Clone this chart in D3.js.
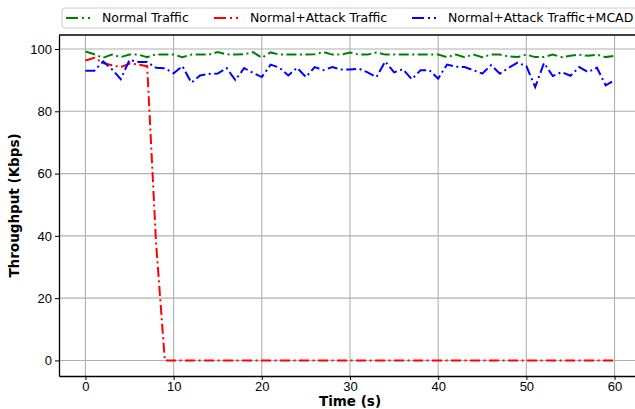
<!DOCTYPE html>
<html>
<head>
<meta charset="utf-8">
<script src="https://cdn.jsdelivr.net/npm/d3@7"></script>
<style>
  body { margin: 0; background: white; }
  svg { display: block; font-family: 'DejaVu Sans', sans-serif; }
</style>
</head>
<body>
<script>
const time = [0,1,2,3,4,5,6,7,8,9,10,11,12,13,14,15,16,17,18,19,20,
  21,22,23,24,25,26,27,28,29,30,31,32,33,34,35,36,37,38,39,40,
  41,42,43,44,45,46,47,48,49,50,51,52,53,54,55,56,57,58,59,60]

const normal = [99.2,98.3,97.2,98.2,97.4,98.2,98.2,97.4,98.3,98.2,98.2,
  97.4,98.2,98.2,98.2,99.0,98.3,98.2,98.3,99.0,97.2,
  98.9,98.2,98.2,98.2,98.2,98.3,99.0,98.2,98.2,98.9,
  98.2,98.2,98.9,98.2,98.2,98.2,98.2,98.2,98.2,98.2,
  97.4,98.2,97.4,98.2,97.4,98.2,98.2,97.6,97.4,98.2,
  97.4,97.4,98.2,97.4,97.8,98.2,97.8,98.2,97.4,97.8]

const attack = [96.3,97.2,95.5,94.8,94.2,95.3,95.0,94.5,38,0,0,
  0,0,0,0,0,0,0,0,0,0, 0,0,0,0,0,0,0,0,0,0,
  0,0,0,0,0,0,0,0,0,0, 0,0,0,0,0,0,0,0,0,0,
  0,0,0,0,0,0,0,0,0,0]

const mcad = [93,93,96,93.5,90.3,96.5,95.8,95.8,94,93.8,92.2,
  94.5,89.2,91.5,92,92.1,93.9,90,93.9,92.3,91,
  95,94,91.5,94,91,94.2,93.2,94.2,93.4,93.4,
  93.7,92.5,91,96,92.5,93.5,90.3,93.2,93.2,90.5,
  95,94.3,94.2,93.2,92.1,94.8,92.1,94,95.6,94.5,
  87.8,95.5,91.3,92.6,91.4,94.2,92.6,94,88.3,90]

const seriesNames = ['Normal Traffic', 'Normal+Attack Traffic', 'Normal+Attack Traffic+MCAD']
const seriesColors = ['green', 'red', 'blue']
const seriesValues = [normal, attack, mcad]
const xTicks = [0,10,20,30,40,50,60]
const yTicks = [0,20,40,60,80,100]

const W = 635, H = 409
const margin = { top: 35, right: -6, bottom: 33, left: 59 }
const width = W - margin.left - margin.right
const height = H - margin.top - margin.bottom

const svg = d3.select('body').append('svg')
    .attr('width', W)
    .attr('height', H)

const g = svg.append('g')
    .attr('transform', `translate(${margin.left}, ${margin.top})`)

const xScale = d3.scaleLinear().domain([-3, 63]).range([0, width])
const yScale = d3.scaleLinear().domain([-5, 104.5]).range([height, 0])

// grid
g.append('g').selectAll('line.vg')
    .data(xTicks).enter().append('line')
    .attr('x1', d => xScale(d)).attr('x2', d => xScale(d))
    .attr('y1', 0).attr('y2', height)
    .style('stroke', '#b0b0b0').style('stroke-width', 1.1)
g.append('g').selectAll('line.hg')
    .data(yTicks).enter().append('line')
    .attr('y1', d => yScale(d)).attr('y2', d => yScale(d))
    .attr('x1', 0).attr('x2', width)
    .style('stroke', '#b0b0b0').style('stroke-width', 1.1)

// lines
const line = d3.line()
    .x((d, i) => xScale(time[i]))
    .y(d => yScale(d))

seriesValues.forEach((vals, k) => {
    g.append('path')
        .datum(vals)
        .attr('d', line)
        .style('fill', 'none')
        .style('stroke', seriesColors[k])
        .style('stroke-width', 2)
        .style('stroke-dasharray', '10,3.5,2,3.5')
})

// axes
const xAxis = g.append('g')
    .attr('transform', `translate(0, ${height})`)
    .call(d3.axisBottom(xScale).tickValues(xTicks).tickSize(4).tickSizeOuter(0).tickPadding(2))
const yAxis = g.append('g')
    .call(d3.axisLeft(yScale).tickValues(yTicks).tickSize(4).tickSizeOuter(0).tickPadding(3))
;[xAxis, yAxis].forEach(a => {
    a.selectAll('text').style('font-size', '13px').style('fill', '#000')
    a.select('.domain').style('stroke', '#000').style('stroke-width', 1.3)
    a.selectAll('.tick line').style('stroke', '#000').style('stroke-width', 1)
})
g.append('line')
    .attr('x1', 0).attr('x2', width).attr('y1', 0).attr('y2', 0)
    .style('stroke', '#000').style('stroke-width', 1.3)

g.append('text')
    .attr('x', xScale(30))
    .attr('y', height + 30)
    .style('text-anchor', 'middle')
    .style('font-size', '13.5px')
    .style('font-weight', 'bold')
    .text('Time (s)')

g.append('text')
    .attr('transform', `translate(${-40}, ${height / 2}) rotate(-90)`)
    .style('text-anchor', 'middle')
    .style('font-size', '13.5px')
    .style('font-weight', 'bold')
    .text('Throughput (Kbps)')

// legend
const legend = svg.append('g')
legend.append('rect')
    .attr('x', 62).attr('y', 8)
    .attr('width', 580).attr('height', 20)
    .attr('rx', 3)
    .style('fill', 'white')
    .style('stroke', '#cccccc')
    .style('stroke-width', 1)

const legendX = [66, 214, 412]
seriesNames.forEach((name, k) => {
    legend.append('line')
        .attr('x1', legendX[k]).attr('x2', legendX[k] + 26)
        .attr('y1', 18).attr('y2', 18)
        .style('stroke', seriesColors[k])
        .style('stroke-width', 2)
        .style('stroke-dasharray', '12,4,2,4,2,20')
    legend.append('text')
        .attr('x', legendX[k] + 36)
        .attr('y', 18)
        .attr('dy', '0.35em')
        .style('font-size', '12.5px')
        .text(name)
})
</script>
</body>
</html>
